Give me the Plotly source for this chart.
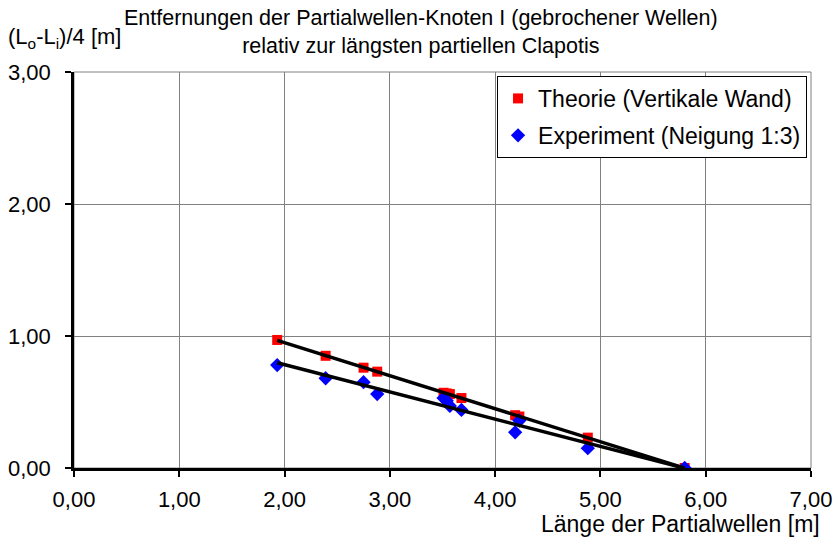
import numpy as np
import plotly.graph_objects as go

# Data
laenge = [1.93, 2.39, 2.75, 2.88, 3.51, 3.54, 3.57, 3.68, 4.19, 4.23, 4.88, 5.80]
theorie = [0.97, 0.85, 0.76, 0.73, 0.57, 0.565, 0.56, 0.53, 0.40, 0.39, 0.23, 0.00]
experiment = [0.78, 0.68, 0.65, 0.56, 0.53, 0.51, 0.47, 0.44, 0.27, 0.36, 0.15, 0.00]

x_ticks = [0, 1, 2, 3, 4, 5, 6, 7]
y_ticks = [0, 1, 2, 3]

FONT = "Liberation Sans, Arial, sans-serif"

fig = go.Figure()
fig.add_trace(go.Scatter(
    x=laenge, y=theorie, mode="markers", name="Theorie (Vertikale Wand)",
    marker=dict(symbol="square", color="#FF0000", size=10, line=dict(width=0)),
    legendgroup="a"))
fig.add_trace(go.Scatter(
    x=laenge, y=experiment, mode="markers", name="Experiment (Neigung 1:3)",
    marker=dict(symbol="diamond", color="#0000FF", size=11, line=dict(width=0)),
    legendgroup="b"))

# linear trendlines (as in the spreadsheet chart)
xs = np.array([min(laenge), max(laenge)])
for ys in (theorie, experiment):
    k, d = np.polyfit(laenge, ys, 1)
    fig.add_trace(go.Scatter(x=xs, y=k * xs + d, mode="lines",
                             line=dict(color="black", width=3.5),
                             showlegend=False, hoverinfo="skip"))

fig.update_layout(
    width=837, height=545,
    margin=dict(l=74, r=26, t=72, b=77, autoexpand=False),
    paper_bgcolor="white", plot_bgcolor="white",
    separators=",.",
    font=dict(family=FONT, size=22, color="black"),
    showlegend=True,
    legend=dict(x=0.574, y=0.99, xanchor="left", yanchor="top",
                bgcolor="white", bordercolor="black", borderwidth=1,
                font=dict(size=23), tracegroupgap=4, traceorder="grouped",
                itemwidth=30),
    xaxis=dict(range=[0, 7], tickvals=x_ticks, tickformat=".2f",
               showgrid=True, gridcolor="#808080", gridwidth=1,
               showline=True, linecolor="black", linewidth=3,
               ticks="outside", ticklen=6, tickwidth=2, tickcolor="black",
               ticklabelstandoff=4,
               zeroline=False, fixedrange=True, automargin=False),
    yaxis=dict(range=[0, 3], tickvals=y_ticks, tickformat=".2f",
               showgrid=True, gridcolor="#808080", gridwidth=1,
               showline=True, linecolor="black", linewidth=2.5,
               ticks="outside", ticklen=6, tickwidth=2, tickcolor="black",
               ticklabelstandoff=10,
               zeroline=False, fixedrange=True, automargin=False),
    shapes=[dict(type="rect", xref="paper", yref="paper", x0=0, x1=1, y0=0, y1=1,
                 line=dict(color="#808080", width=1), layer="below")],
    annotations=[
        dict(text="Entfernungen der Partialwellen-Knoten I (gebrochener Wellen)<br>relativ zur längsten partiellen Clapotis",
             xref="paper", yref="paper", x=0.4708, y=1.102, xanchor="center", yanchor="middle",
             showarrow=False, font=dict(size=21.5), align="center"),
        dict(text="(L<sub>o</sub>-L<sub>i</sub>)/4 [m]",
             xref="paper", yref="paper", x=-0.092, y=1.085, xanchor="left", yanchor="middle",
             showarrow=False, font=dict(size=22)),
        dict(text="Länge der Partialwellen [m]",
             xref="paper", yref="paper", x=1.0155, y=-0.142, xanchor="right", yanchor="middle",
             showarrow=False, font=dict(size=23)),
    ],
)

fig.write_html("out.html", post_script="document.body.style.margin='0';",
               config={"displayModeBar": False})
